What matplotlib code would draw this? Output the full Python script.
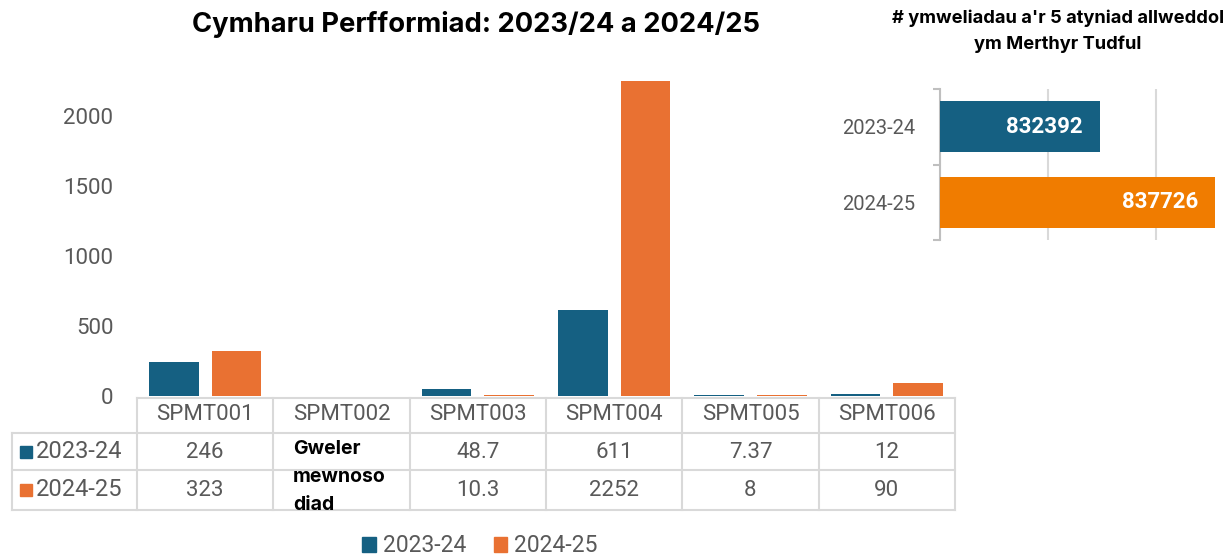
import numpy as np
import matplotlib
matplotlib.use('Agg')
import matplotlib.pyplot as plt
import matplotlib.transforms as mtransforms
from matplotlib.patches import Patch, Rectangle
from matplotlib.lines import Line2D

plt.rcParams['font.family'] = ['Roboto', 'DejaVu Sans']

# data
categories = ['SPMT001', 'SPMT002', 'SPMT003', 'SPMT004', 'SPMT005', 'SPMT006']
series_names = ['2023-24', '2024-25']
vals_2324 = [246, np.nan, 48.7, 611, 7.37, 12]
vals_2425 = [323, np.nan, 10.3, 2252, 8, 90]
labels_2324 = ['246', '', '48.7', '611', '7.37', '12']
labels_2425 = ['323', '', '10.3', '2252', '8', '90']
note_spmt002 = ['Gweler', 'mewnoso', 'diad']

visits_years = ['2023-24', '2024-25']
visits = [832392, 837726]

BLUE = '#156082'
ORANGE = '#E97132'
ORANGE2 = '#F07C00'
GREY_TXT = '#595959'
GRID = '#d9d9d9'
BOLD_FONT = ['Inter', 'DejaVu Sans']

W, H = 1227, 556
fig = plt.figure(figsize=(W / 100, H / 100), dpi=100)


def fy(py):
    return 1 - py / H


def fx(px):
    return px / W


# ---- main chart
ymax = 2300
ax = fig.add_axes([fx(137), fy(396), fx(955) - fx(137), (ymax * 0.14) / H])
x = np.arange(len(categories))
ax.bar(x - 0.23, vals_2324, width=0.366, color=BLUE)
ax.bar(x + 0.23, vals_2425, width=0.366, color=ORANGE)
ax.set_xlim(-0.5, len(categories) - 0.5)
ax.set_ylim(0, ymax)
ax.set_yticks([0, 500, 1000, 1500, 2000])
ax.tick_params(axis='y', length=0, pad=17, labelsize=16, labelcolor=GREY_TXT)
ax.set_xticks([])
for s in ax.spines.values():
    s.set_visible(False)

fig.text(fx(476), fy(24), 'Cymharu Perfformiad: 2023/24 a 2024/25', ha='center', va='center',
         fontsize=19.7, fontweight='bold', color='black', family=BOLD_FONT)

# ---- data table under the axis
tr = mtransforms.blended_transform_factory(ax.transData, fig.transFigure)
left_edge = -0.5 - 125 / 136.3
right_edge = len(categories) - 0.5
row_y = [398, 433, 470, 510]
for i, py in enumerate(row_y):
    x0 = -0.5 if i == 0 else left_edge
    fig.add_artist(Line2D([x0, right_edge], [fy(py), fy(py)], transform=tr, color=GRID, lw=1.5))
for b in np.arange(-0.5, len(categories)):
    fig.add_artist(Line2D([b, b], [fy(398), fy(510)], transform=tr, color=GRID, lw=1.5))
fig.add_artist(Line2D([left_edge, left_edge], [fy(433), fy(510)], transform=tr, color=GRID, lw=1.5))

for i, c in enumerate(categories):
    fig.text(i, fy(415), c, transform=tr, ha='center', va='center', fontsize=16, color=GREY_TXT)
    if labels_2324[i]:
        fig.text(i, fy(452), labels_2324[i], transform=tr, ha='center', va='center', fontsize=16, color=GREY_TXT)
    if labels_2425[i]:
        fig.text(i, fy(490), labels_2425[i], transform=tr, ha='center', va='center', fontsize=16, color=GREY_TXT)

for j, line in enumerate(note_spmt002):
    fig.text(fx(293), fy(449 + 28 * j), line, ha='left', va='center', fontsize=14,
             fontweight='bold', color='black', family=BOLD_FONT)

for name, col, py in [(series_names[0], BLUE, 452), (series_names[1], ORANGE, 490)]:
    fig.add_artist(Rectangle((fx(20), fy(py + 6)), fx(12), 12 / H, transform=fig.transFigure,
                             color=col))
    fig.text(fx(36), fy(py), name, ha='left', va='center', fontsize=17, color=GREY_TXT)

fig.legend(handles=[Patch(color=BLUE, label=series_names[0]), Patch(color=ORANGE, label=series_names[1])],
           loc='center', bbox_to_anchor=(fx(480), fy(546)), ncol=2, frameon=False,
           fontsize=16.5, labelcolor=GREY_TXT, handlelength=0.6, handleheight=0.6,
           handletextpad=0.3, columnspacing=1.2, borderpad=0)

# ---- inset: visits
ax2 = fig.add_axes([fx(940), fy(240), fx(1264) - fx(940), (240 - 89) / H])
yy = np.arange(len(visits_years))
bars = ax2.barh(yy, visits, height=0.675, color=[BLUE, ORANGE2], zorder=3)
ax2.set_xlim(825000, 840000)
ax2.set_ylim(1.5, -0.5)
ax2.set_xticks([825000, 830000, 835000, 840000])
ax2.set_xticklabels([])
ax2.tick_params(axis='x', length=0)
ax2.grid(axis='x', color=GRID, lw=1.5, zorder=0)
ax2.set_yticks(yy)
ax2.set_yticklabels(visits_years)
ax2.set_yticks([-0.5, 0.5, 1.5], minor=True)
ax2.tick_params(axis='y', which='major', length=0, pad=18, labelsize=14.5, labelcolor=GREY_TXT)
ax2.tick_params(axis='y', which='minor', length=5, color='#bfbfbf', width=1.5)
for k in ['top', 'right', 'bottom']:
    ax2.spines[k].set_visible(False)
ax2.spines['left'].set_color('#bfbfbf')
ax2.spines['left'].set_linewidth(1.5)
for b, v in zip(bars, visits):
    ax2.annotate(str(v), xy=(v, b.get_y() + b.get_height() / 2), xytext=(-12, 0),
                 textcoords='offset points', ha='right', va='center', color='white',
                 fontsize=16, fontweight='bold', zorder=4)

fig.text(fx(1058), fy(18), "# ymweliadau a'r 5 atyniad allweddol", ha='center', va='center',
         fontsize=13.2, fontweight='bold', color='black', family=BOLD_FONT)
fig.text(fx(1058), fy(44), 'ym Merthyr Tudful', ha='center', va='center',
         fontsize=13.2, fontweight='bold', color='black', family=BOLD_FONT)

fig.savefig('out.png', dpi=100, facecolor='white')
